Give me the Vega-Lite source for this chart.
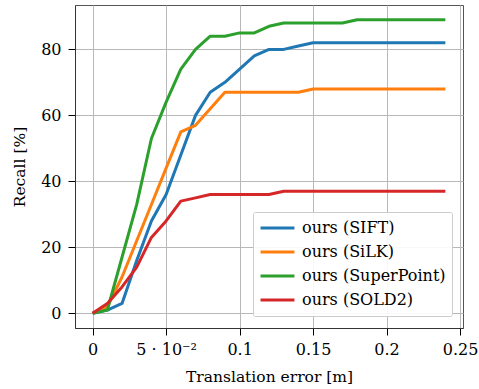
{
  "$schema": "https://vega.github.io/schema/vega-lite/v6.json",
  "autosize": {"type": "none"},
  "padding": {"left": 75, "top": 5, "right": 16, "bottom": 61},
  "width": 388,
  "height": 323,
  "background": "white",
  "config": {
    "view": {"stroke": "#555555", "strokeWidth": 1},
    "font": "DejaVu Serif",
    "axis": {
      "labelFont": "DejaVu Serif",
      "titleFont": "DejaVu Serif",
      "labelFontSize": 16,
      "titleFontSize": 15.5,
      "titleFontWeight": "normal",
      "labelColor": "black",
      "titleColor": "black",
      "domainColor": "#333333",
      "tickColor": "black",
      "tickSize": 7,
      "gridColor": "#b8b8b8",
      "gridWidth": 1
    },
    "legend": {
      "labelFont": "DejaVu Serif"
    }
  },
  "data": {
    "values": [
      {"t": 0.00, "method": "ours (SIFT)", "recall": 0},
      {"t": 0.01, "method": "ours (SIFT)", "recall": 1},
      {"t": 0.02, "method": "ours (SIFT)", "recall": 3},
      {"t": 0.03, "method": "ours (SIFT)", "recall": 16},
      {"t": 0.04, "method": "ours (SIFT)", "recall": 28},
      {"t": 0.05, "method": "ours (SIFT)", "recall": 36},
      {"t": 0.06, "method": "ours (SIFT)", "recall": 48},
      {"t": 0.07, "method": "ours (SIFT)", "recall": 60},
      {"t": 0.08, "method": "ours (SIFT)", "recall": 67},
      {"t": 0.09, "method": "ours (SIFT)", "recall": 70},
      {"t": 0.10, "method": "ours (SIFT)", "recall": 74},
      {"t": 0.11, "method": "ours (SIFT)", "recall": 78},
      {"t": 0.12, "method": "ours (SIFT)", "recall": 80},
      {"t": 0.13, "method": "ours (SIFT)", "recall": 80},
      {"t": 0.14, "method": "ours (SIFT)", "recall": 81},
      {"t": 0.15, "method": "ours (SIFT)", "recall": 82},
      {"t": 0.16, "method": "ours (SIFT)", "recall": 82},
      {"t": 0.17, "method": "ours (SIFT)", "recall": 82},
      {"t": 0.18, "method": "ours (SIFT)", "recall": 82},
      {"t": 0.19, "method": "ours (SIFT)", "recall": 82},
      {"t": 0.20, "method": "ours (SIFT)", "recall": 82},
      {"t": 0.21, "method": "ours (SIFT)", "recall": 82},
      {"t": 0.22, "method": "ours (SIFT)", "recall": 82},
      {"t": 0.23, "method": "ours (SIFT)", "recall": 82},
      {"t": 0.24, "method": "ours (SIFT)", "recall": 82},

      {"t": 0.00, "method": "ours (SiLK)", "recall": 0},
      {"t": 0.01, "method": "ours (SiLK)", "recall": 2},
      {"t": 0.02, "method": "ours (SiLK)", "recall": 11},
      {"t": 0.03, "method": "ours (SiLK)", "recall": 22},
      {"t": 0.04, "method": "ours (SiLK)", "recall": 33},
      {"t": 0.05, "method": "ours (SiLK)", "recall": 44},
      {"t": 0.06, "method": "ours (SiLK)", "recall": 55},
      {"t": 0.07, "method": "ours (SiLK)", "recall": 57},
      {"t": 0.08, "method": "ours (SiLK)", "recall": 62},
      {"t": 0.09, "method": "ours (SiLK)", "recall": 67},
      {"t": 0.10, "method": "ours (SiLK)", "recall": 67},
      {"t": 0.11, "method": "ours (SiLK)", "recall": 67},
      {"t": 0.12, "method": "ours (SiLK)", "recall": 67},
      {"t": 0.13, "method": "ours (SiLK)", "recall": 67},
      {"t": 0.14, "method": "ours (SiLK)", "recall": 67},
      {"t": 0.15, "method": "ours (SiLK)", "recall": 68},
      {"t": 0.16, "method": "ours (SiLK)", "recall": 68},
      {"t": 0.17, "method": "ours (SiLK)", "recall": 68},
      {"t": 0.18, "method": "ours (SiLK)", "recall": 68},
      {"t": 0.19, "method": "ours (SiLK)", "recall": 68},
      {"t": 0.20, "method": "ours (SiLK)", "recall": 68},
      {"t": 0.21, "method": "ours (SiLK)", "recall": 68},
      {"t": 0.22, "method": "ours (SiLK)", "recall": 68},
      {"t": 0.23, "method": "ours (SiLK)", "recall": 68},
      {"t": 0.24, "method": "ours (SiLK)", "recall": 68},

      {"t": 0.00, "method": "ours (SuperPoint)", "recall": 0},
      {"t": 0.01, "method": "ours (SuperPoint)", "recall": 1},
      {"t": 0.02, "method": "ours (SuperPoint)", "recall": 17},
      {"t": 0.03, "method": "ours (SuperPoint)", "recall": 33},
      {"t": 0.04, "method": "ours (SuperPoint)", "recall": 53},
      {"t": 0.05, "method": "ours (SuperPoint)", "recall": 64},
      {"t": 0.06, "method": "ours (SuperPoint)", "recall": 74},
      {"t": 0.07, "method": "ours (SuperPoint)", "recall": 80},
      {"t": 0.08, "method": "ours (SuperPoint)", "recall": 84},
      {"t": 0.09, "method": "ours (SuperPoint)", "recall": 84},
      {"t": 0.10, "method": "ours (SuperPoint)", "recall": 85},
      {"t": 0.11, "method": "ours (SuperPoint)", "recall": 85},
      {"t": 0.12, "method": "ours (SuperPoint)", "recall": 87},
      {"t": 0.13, "method": "ours (SuperPoint)", "recall": 88},
      {"t": 0.14, "method": "ours (SuperPoint)", "recall": 88},
      {"t": 0.15, "method": "ours (SuperPoint)", "recall": 88},
      {"t": 0.16, "method": "ours (SuperPoint)", "recall": 88},
      {"t": 0.17, "method": "ours (SuperPoint)", "recall": 88},
      {"t": 0.18, "method": "ours (SuperPoint)", "recall": 89},
      {"t": 0.19, "method": "ours (SuperPoint)", "recall": 89},
      {"t": 0.20, "method": "ours (SuperPoint)", "recall": 89},
      {"t": 0.21, "method": "ours (SuperPoint)", "recall": 89},
      {"t": 0.22, "method": "ours (SuperPoint)", "recall": 89},
      {"t": 0.23, "method": "ours (SuperPoint)", "recall": 89},
      {"t": 0.24, "method": "ours (SuperPoint)", "recall": 89},

      {"t": 0.00, "method": "ours (SOLD2)", "recall": 0},
      {"t": 0.01, "method": "ours (SOLD2)", "recall": 3},
      {"t": 0.02, "method": "ours (SOLD2)", "recall": 8},
      {"t": 0.03, "method": "ours (SOLD2)", "recall": 14},
      {"t": 0.04, "method": "ours (SOLD2)", "recall": 23},
      {"t": 0.05, "method": "ours (SOLD2)", "recall": 28},
      {"t": 0.06, "method": "ours (SOLD2)", "recall": 34},
      {"t": 0.07, "method": "ours (SOLD2)", "recall": 35},
      {"t": 0.08, "method": "ours (SOLD2)", "recall": 36},
      {"t": 0.09, "method": "ours (SOLD2)", "recall": 36},
      {"t": 0.10, "method": "ours (SOLD2)", "recall": 36},
      {"t": 0.11, "method": "ours (SOLD2)", "recall": 36},
      {"t": 0.12, "method": "ours (SOLD2)", "recall": 36},
      {"t": 0.13, "method": "ours (SOLD2)", "recall": 37},
      {"t": 0.14, "method": "ours (SOLD2)", "recall": 37},
      {"t": 0.15, "method": "ours (SOLD2)", "recall": 37},
      {"t": 0.16, "method": "ours (SOLD2)", "recall": 37},
      {"t": 0.17, "method": "ours (SOLD2)", "recall": 37},
      {"t": 0.18, "method": "ours (SOLD2)", "recall": 37},
      {"t": 0.19, "method": "ours (SOLD2)", "recall": 37},
      {"t": 0.20, "method": "ours (SOLD2)", "recall": 37},
      {"t": 0.21, "method": "ours (SOLD2)", "recall": 37},
      {"t": 0.22, "method": "ours (SOLD2)", "recall": 37},
      {"t": 0.23, "method": "ours (SOLD2)", "recall": 37},
      {"t": 0.24, "method": "ours (SOLD2)", "recall": 37}
    ]
  },
  "mark": {"type": "line", "strokeWidth": 3, "strokeJoin": "round", "clip": true},
  "encoding": {
    "x": {
      "field": "t",
      "type": "quantitative",
      "scale": {"domain": [-0.012, 0.252], "nice": false, "zero": false},
      "axis": {
        "title": "Translation error [m]",
        "values": [0, 0.05, 0.1, 0.15, 0.2, 0.25],
        "labelExpr": "abs(datum.value - 0.05) < 1e-9 ? '5 · 10⁻²' : '' + round(datum.value * 100) / 100",
        "labelPadding": 6,
        "titlePadding": 12,
        "labelFlush": false,
        "labelOverlap": false
      }
    },
    "y": {
      "field": "recall",
      "type": "quantitative",
      "scale": {"domain": [-4.45, 93.45], "nice": false, "zero": false},
      "axis": {
        "title": "Recall [%]",
        "values": [0, 20, 40, 60, 80],
        "labelPadding": 7,
        "titlePadding": 13,
        "labelFlush": false
      }
    },
    "color": {
      "field": "method",
      "type": "nominal",
      "sort": null,
      "scale": {
        "domain": ["ours (SIFT)", "ours (SiLK)", "ours (SuperPoint)", "ours (SOLD2)"],
        "range": ["#1f77b4", "#ff7f0e", "#2ca02c", "#d62728"]
      },
      "legend": {
        "title": null,
        "orient": "none",
        "legendX": 178,
        "legendY": 207,
        "symbolType": "stroke",
        "symbolSize": 1150,
        "symbolStrokeWidth": 3,
        "clipHeight": 20,
        "labelFont": "DejaVu Serif",
        "labelFontSize": 16,
        "labelColor": "black",
        "labelOffset": 6,
        "rowPadding": 4,
        "padding": 6,
        "fillColor": "rgba(255,255,255,0.9)",
        "strokeColor": "#cccccc",
        "cornerRadius": 2
      }
    }
  }
}
